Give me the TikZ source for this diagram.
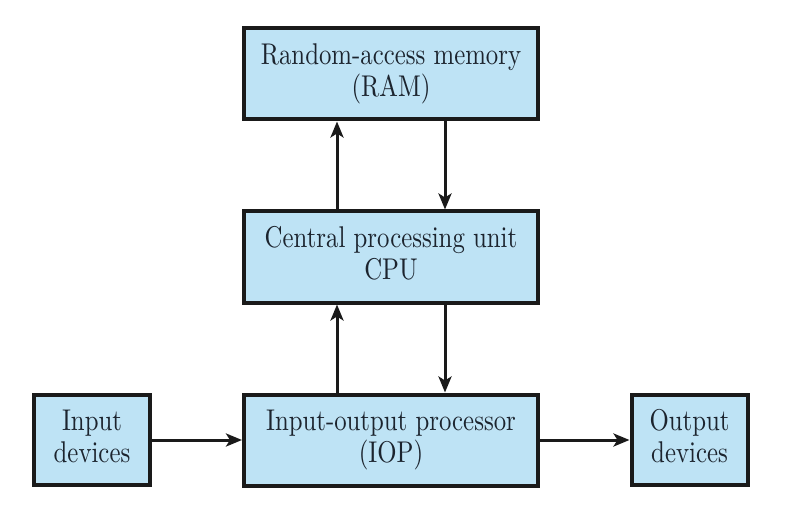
\documentclass[tikz,border=0pt]{standalone}
\usetikzlibrary{arrows.meta}
\definecolor{boxfill}{RGB}{190,227,245}
\definecolor{boxline}{RGB}{26,26,26}
\definecolor{txt}{RGB}{28,36,46}
\newcommand{\sqtext}[1]{\raisebox{-1.5pt}{\scalebox{1.24}[1.5]{\begin{tabular}{@{}c@{}}#1\end{tabular}}}}
\tikzset{
  unitbox/.style={draw=boxline, fill=boxfill, line width=2pt, inner sep=0pt,
    text=txt, font=\fontsize{10}{10.7}\selectfont, align=center},
  bigbox/.style={unitbox, minimum width=147pt, minimum height=45.5pt},
  smallbox/.style={unitbox, minimum width=58pt, minimum height=45pt},
  conn/.style={draw=boxline, line width=1.5pt, -{Stealth[length=8pt,width=6.5pt,inset=2pt]}}
}
\begin{document}
\begin{tikzpicture}[x=0.5pt,y=-0.5pt]
\useasboundingbox (0,0) rectangle (788,508);
\node[bigbox] (ram) at (391,74) {\sqtext{Random-access memory\\(RAM)}};
\node[bigbox] (cpu) at (391,257) {\sqtext{Central processing unit\\CPU}};
\node[bigbox] (iop) at (391,440) {\sqtext{Input-output processor\\(IOP)}};
\node[smallbox] (in) at (92,440) {\sqtext{Input\\devices}};
\node[smallbox] (out) at (689.5,440) {\sqtext{Output\\devices}};
\draw[conn] ([xshift=-27pt]cpu.north) -- ([xshift=-27pt]ram.south);
\draw[conn] ([xshift=27pt]ram.south) -- ([xshift=27pt]cpu.north);
\draw[conn] ([xshift=-27pt]iop.north) -- ([xshift=-27pt]cpu.south);
\draw[conn] ([xshift=27pt]cpu.south) -- ([xshift=27pt]iop.north);
\draw[conn] (in.east) -- (iop.west);
\draw[conn] (iop.east) -- (out.west);
\end{tikzpicture}
\end{document}
